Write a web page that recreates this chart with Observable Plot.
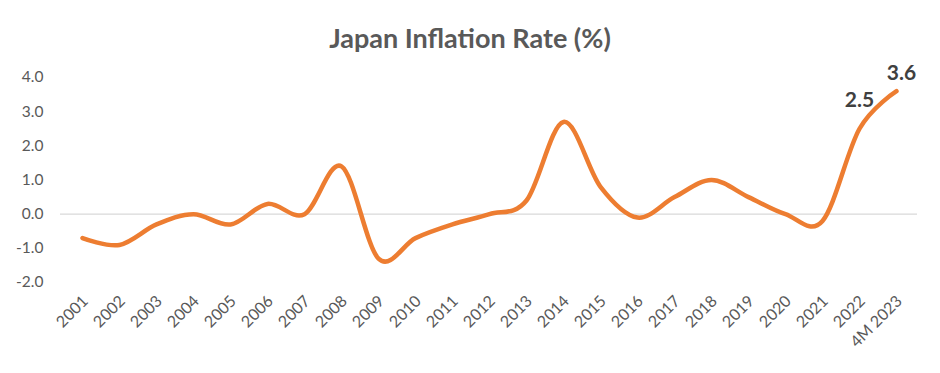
<!DOCTYPE html>
<html>
<head>
<meta charset="utf-8">
<script src="https://cdn.jsdelivr.net/npm/d3@7"></script>
<script src="https://cdn.jsdelivr.net/npm/@observablehq/plot@0.6"></script>
<style>
  html, body { margin: 0; padding: 0; background: #fff; }
  #title { width: 940px; height: 60px; text-align: center; font-family: Lato, "Open Sans", sans-serif; font-weight: bold; font-size: 27px; color: #595959; line-height: 76px; }
  #chart { width: 940px; }
</style>
</head>
<body>
<div id="title">Japan Inflation Rate (%)</div>
<div id="chart"></div>
<script>
const years = ["2001","2002","2003","2004","2005","2006","2007","2008","2009","2010","2011","2012","2013","2014","2015","2016","2017","2018","2019","2020","2021","2022","4M 2023"];
const inflation = [-0.7,-0.9,-0.3,0.0,-0.3,0.3,0.0,1.4,-1.3,-0.7,-0.3,0.0,0.4,2.7,0.8,-0.1,0.5,1.0,0.5,0.0,-0.2,2.5,3.6];
const yTicks = [-2,-1,0,1,2,3,4];
const labeledYears = ["2022","4M 2023"];

const data = years.map((y, i) => ({year: y, value: inflation[i]}));
const lab2022 = data.filter(d => d.year === labeledYears[0]);
const lab2023 = data.filter(d => d.year === labeledYears[1]);

const chart = Plot.plot({
  width: 940,
  height: 313,
  marginLeft: 60,
  marginRight: 23,
  marginTop: 17,
  marginBottom: 91,
  style: {fontFamily: "Lato, 'Open Sans', sans-serif", fontSize: "15px", color: "#595959", background: "#fff"},
  x: {type: "point", domain: years, padding: 0.5, label: null},
  y: {domain: [-2, 4], label: null},
  marks: [
    Plot.ruleY([0], {stroke: "#d9d9d9", strokeWidth: 1.3}),
    Plot.axisY({ticks: yTicks, tickSize: 0, tickPadding: 17, tickFormat: d => d.toFixed(1), fontSize: 15.5, fill: "#595959", label: null}),
    Plot.axisX({tickSize: 0, tickRotate: -45, tickPadding: 16, dx: 3, fontSize: 16, fill: "#595959", label: null}),
    Plot.line(data, {x: "year", y: "value", stroke: "#ED7D31", strokeWidth: 4.5, curve: "cardinal", tension: 0, strokeLinecap: "round", strokeLinejoin: "round"}),
    Plot.text(lab2022, {x: "year", y: "value", text: d => d.value.toFixed(1), dy: -28, fontSize: 21, fontWeight: "bold", fill: "#404040"}),
    Plot.text(lab2023, {x: "year", y: "value", text: d => d.value.toFixed(1), dy: -18, dx: 5, fontSize: 21, fontWeight: "bold", fill: "#404040"})
  ]
});
document.getElementById("chart").appendChild(chart);
</script>
</body>
</html>
